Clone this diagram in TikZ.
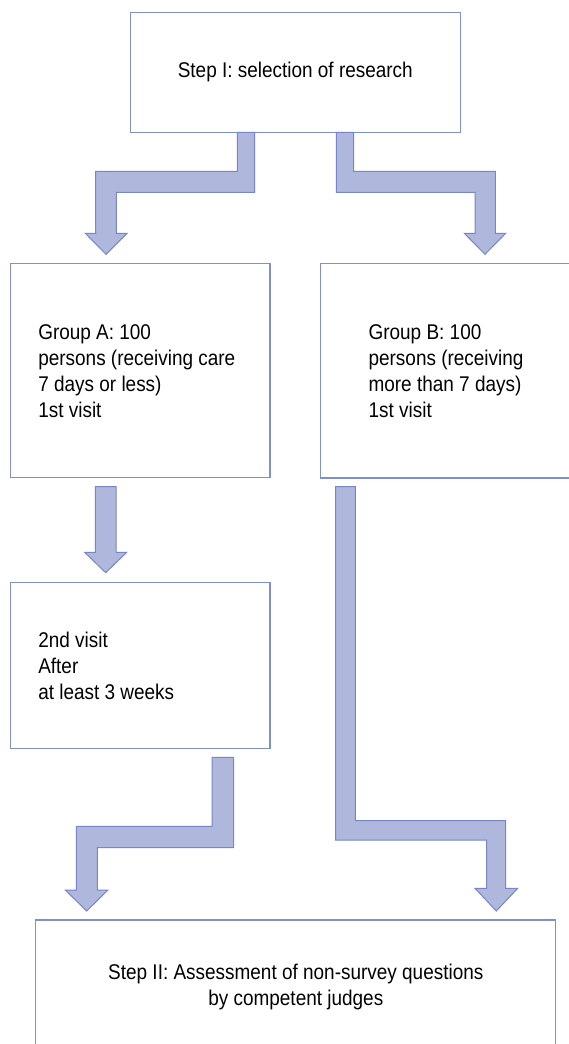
\documentclass[tikz,border=0pt]{standalone}
\usepackage{fontspec}
\setmainfont[FakeStretch=0.89]{Liberation Sans}
\definecolor{boxline}{RGB}{128,144,205}
\definecolor{arrline}{RGB}{118,134,200}
\definecolor{arrfill}{RGB}{175,183,220}
\begin{document}
\begin{tikzpicture}[x=1pt,y=-1pt,
  box/.style={draw=boxline, line width=1.2pt, fill=white, inner sep=0pt},
  txt/.style={font=\fontsize{21.3}{26}\selectfont, inner sep=0pt, align=left},
  blockarrow/.style={fill=arrfill, draw=arrline, line width=1pt, line join=miter}]
\useasboundingbox (0,0) rectangle (569,1044);
\clip (0,0) rectangle (569,1044);
\fill[white] (0,0) rectangle (569,1044);
% boxes
\node[box, minimum width=330pt, minimum height=120pt, font=\fontsize{21.3}{26}\selectfont] (top) at (295.3,72.3) {Step I: selection of research};
\node[box, minimum width=259.7pt, minimum height=214.4pt] (gA) at (140.15,370.5) {};
\node[box, minimum width=254.3pt, minimum height=214.7pt] (gB) at (447.85,370.65) {};
\node[box, minimum width=259.7pt, minimum height=166pt] (g2) at (140.15,665.3) {};
\node[box, minimum width=520.4pt, minimum height=180pt] (bot) at (295.5,1010) {};
% texts
\node[txt, anchor=west] (tA) at ([xshift=28.4pt,yshift=-0.3pt]gA.west) {Group A: 100\\persons (receiving care\\7 days or less)\\1st visit};
\node[txt, anchor=west] (tB) at ([xshift=48.3pt,yshift=-0.3pt]gB.west) {Group B: 100\\persons (receiving\\more than 7 days)\\1st visit};
\node[txt, anchor=west] (t2) at ([xshift=28.4pt,yshift=-1pt]g2.west) {2nd visit\\After\\at least 3 weeks};
\node[txt, align=center] (tbot) at (295.8,987.4) {Step II: Assessment of non-survey questions\\by competent judges};
% block arrows
\draw[blockarrow] (237.3,132.3) -- (254.7,132.3) -- (254.7,192.3) -- (116.3,192.3) -- (116.3,233.3) -- (127,233.3) -- (106,254.3) -- (85.3,233.3) -- (95.7,233.3) -- (95.7,171.3) -- (237.3,171.3) -- cycle;
\draw[blockarrow] (336.3,132.3) -- (353.7,132.3) -- (353.7,171.3) -- (495.3,171.3) -- (495.3,233.3) -- (505.7,233.3) -- (485,254.3) -- (464.3,233.3) -- (475,233.3) -- (475,192.3) -- (336.3,192.3) -- cycle;
\draw[blockarrow] (95.3,486.7) -- (116,486.7) -- (116,552.3) -- (126.7,552.3) -- (105.7,572.7) -- (84.7,552.3) -- (95.3,552.3) -- cycle;
\draw[blockarrow] (212,757.3) -- (233.7,757.3) -- (233.7,847.7) -- (97.3,847.7) -- (97.3,890) -- (108,890) -- (86.7,911) -- (65.3,890) -- (76.3,890) -- (76.3,826.3) -- (212,826.3) -- cycle;
\draw[blockarrow] (335.7,486.7) -- (355.3,486.7) -- (355.3,820.7) -- (505.7,820.7) -- (505.7,888.3) -- (517.7,888.3) -- (496.3,911) -- (475,888.3) -- (486.7,888.3) -- (486.7,840) -- (335.7,840) -- cycle;
\end{tikzpicture}
\end{document}
